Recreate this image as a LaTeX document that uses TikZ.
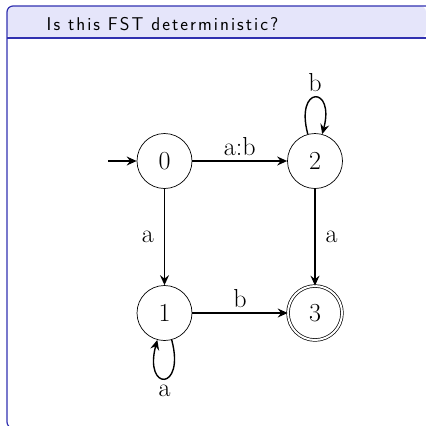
\documentclass[tikz,border=0pt]{standalone}
\usepackage{fontspec}
\newfontfamily\titlefont[LetterSpace=11]{Latin Modern Sans}
\usetikzlibrary{arrows.meta,automata,positioning}
\definecolor{titlebg}{RGB}{229,229,250}
\definecolor{framecol}{RGB}{48,48,176}
\tikzset{
  st/.style={circle,draw,line width=0.7pt,minimum size=55pt,inner sep=0pt,font=\fontsize{26}{30}\selectfont},
  acc/.style={st,minimum size=54pt,double,double distance=2pt},
  edge/.style={line width=1.4pt,-{Stealth[length=10pt,width=9pt,inset=3.5pt]}},
  lab/.style={font=\fontsize{26}{30}\selectfont,inner sep=2pt},
  border/.style={draw=framecol,line width=1.2pt}
}
\begin{document}
\begin{tikzpicture}[x=1pt,y=-1pt]
\useasboundingbox (0,0) rectangle (426,426);
\fill[titlebg,rounded corners=6pt] (426,38) -- (426,6) -- (7,6) -- (7,38) -- cycle;
\draw[border,rounded corners=6pt] (426,6) -- (7,6) -- (7,428) -- (426,428);
\draw[border] (7,38) -- (426,38);
\node[anchor=base west,inner sep=0pt,font=\titlefont\fontsize{18.5}{21}\selectfont] (title) at (46.5,30) {Is this FST deterministic?};
\node[st] (q0) at (164.5,161) {0};
\node[st] (q2) at (315,161) {2};
\node[st] (q1) at (164.5,313) {1};
\node[acc] (q3) at (315,313) {3};
\coordinate (init) at (108,161);
\draw[edge] (init) -- (q0);
\draw[edge] (q0) -- node[lab,above=3pt] {a:b} (q2);
\draw[edge] (q0) -- node[lab,left=8pt] {a} (q1);
\draw[edge] (q2) -- node[lab,right=8pt] {a} (q3);
\draw[edge] (q1) -- node[lab,above=3pt] {b} (q3);
\draw[edge] (q2) to[loop above,looseness=9] node[lab,above=3pt] {b} (q2);
\draw[edge] (q1) to[loop below,looseness=9.5] node[lab,below=4pt] {a} (q1);
\end{tikzpicture}
\end{document}
